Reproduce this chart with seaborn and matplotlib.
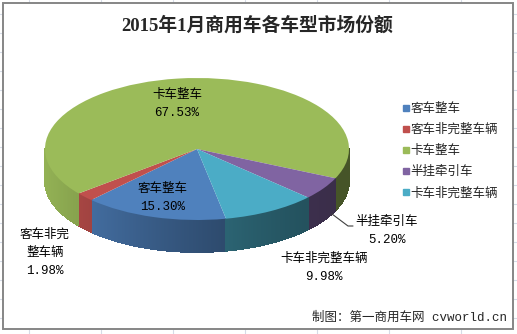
import numpy as np
import matplotlib
matplotlib.use("Agg")
import matplotlib.pyplot as plt
from matplotlib.lines import Line2D
from matplotlib.patches import Rectangle
from matplotlib.collections import PolyCollection
import seaborn as sns

# ---- data ----
categories = ["客车整车", "客车非完整车辆", "卡车整车", "半挂牵引车", "卡车非完整车辆"]
shares = [15.30, 1.98, 67.53, 5.20, 9.98]
slice_names = ["客车整车", "客车非完\n整车辆", "卡车整车", "半挂牵引车", "卡车非完整车辆"]
title_text = "2015年1月商用车各车型市场份额"
source_text = "制图：第一商用车网 cvworld.cn"

# ---- style ----
sns.set_theme(style="white")
palette = sns.color_palette(["#4F81BD", "#C0504D", "#9BBB59", "#8064A2", "#4BACC6"])
plt.rcParams["font.family"] = ["Liberation Mono", "Noto Sans CJK SC", "DejaVu Sans"]

W, H = 517, 334
fig = plt.figure(figsize=(W / 100, H / 100), dpi=100)
fig.patch.set_facecolor("white")


def fx(px):
    return px / W


def fy(py):
    return 1 - py / H


# ---- worksheet grid behind the chart area ----
bg = fig.add_axes([0, 0, 1, 1])
bg.set_xlim(0, W)
bg.set_ylim(H, 0)
bg.axis("off")
for gx in range(29, W, 72):
    bg.axvline(gx, color="#d5dbe7", lw=0.8, zorder=0)
for gy in range(14, H, 19):
    bg.axhline(gy, color="#d5dbe7", lw=0.8, zorder=0)
bg.add_patch(Rectangle((3, 3), 510, 326, facecolor="white",
                       edgecolor="#868686", lw=1.4, zorder=1))

# ---- pie (flattened into an ellipse) ----
ax = fig.add_axes([0, 0, 1, 1])
ax.patch.set_alpha(0)
cx_px, cy_px, rx_px, ry_px = 197, 149, 152, 71
depth = 32 / ry_px
start = 281

wedges, _ = ax.pie(shares, colors=palette, startangle=start, counterclock=False,
                   radius=1, center=(0, 0),
                   wedgeprops=dict(linewidth=0, zorder=3))
ax.set_aspect("auto")
ax.set_xlim(-cx_px / rx_px, (W - cx_px) / rx_px)
ax.set_ylim((cy_px - H) / ry_px, cy_px / ry_px)
ax.axis("off")

# side walls of the front half, shaded darker toward the right
cum = np.concatenate([[0], np.cumsum(shares)]) / np.sum(shares) * 360
polys, cols = [], []
for i, col in enumerate(palette):
    a_hi = start - cum[i]
    a_lo = start - cum[i + 1]
    ts = np.radians(np.linspace(a_lo, a_hi, 240))
    base = np.array(col)
    for r0, r1 in zip(ts[:-1], ts[1:]):
        if np.sin(r0) > 1e-9 and np.sin(r1) > 1e-9:
            continue
        tm = 0.5 * (r0 + r1)
        shade = 0.45 + 0.5 * ((1 - np.cos(tm)) / 2) ** 1.5
        y0, y1 = min(np.sin(r0), 0), min(np.sin(r1), 0)
        polys.append([(np.cos(r0), y0), (np.cos(r1), y1),
                      (np.cos(r1), y1 - depth), (np.cos(r0), y0 - depth)])
        cols.append(np.clip(base * shade, 0, 1))
walls = PolyCollection(polys, facecolors=cols, edgecolors=cols,
                       linewidths=0.6, antialiaseds=False, zorder=2)
ax.add_collection(walls)

# ---- data labels ----
label_pos = [(163, 189), (45, 235), (177, 95), (387, 222), (324, 259)]
for name, val, (lx, ly) in zip(slice_names, shares, label_pos):
    lines = name.split("\n") + [f"{val:.2f}%"]
    for k, line in enumerate(lines):
        fig.text(fx(lx), fy(ly + 18 * k), line, ha="center", va="center",
                 fontsize=9, color="black")

# leader line for the small slice label
fig.add_artist(Line2D([fx(332), fx(348), fx(353)], [fy(214), fy(226), fy(226)],
                      color="#404040", lw=0.8))

# ---- legend ----
handles = [Line2D([], [], marker="s", linestyle="", color=c, markersize=4.5)
           for c in palette]
ax.legend(handles, categories, loc="upper left",
          bbox_to_anchor=(fx(402), fy(103)), bbox_transform=fig.transFigure,
          frameon=False, fontsize=9, handletextpad=0.1, handlelength=0.6,
          labelspacing=0.72, borderpad=0, borderaxespad=0)

# ---- title and source ----
fig.text(fx(257), fy(25), title_text, ha="center", va="center",
         fontsize=13.5, fontweight="bold",
         family=["Liberation Serif", "Noto Sans CJK SC"])
fig.text(fx(507), fy(318), source_text, ha="right", va="center", fontsize=9)

fig.savefig("out.png", dpi=100)
